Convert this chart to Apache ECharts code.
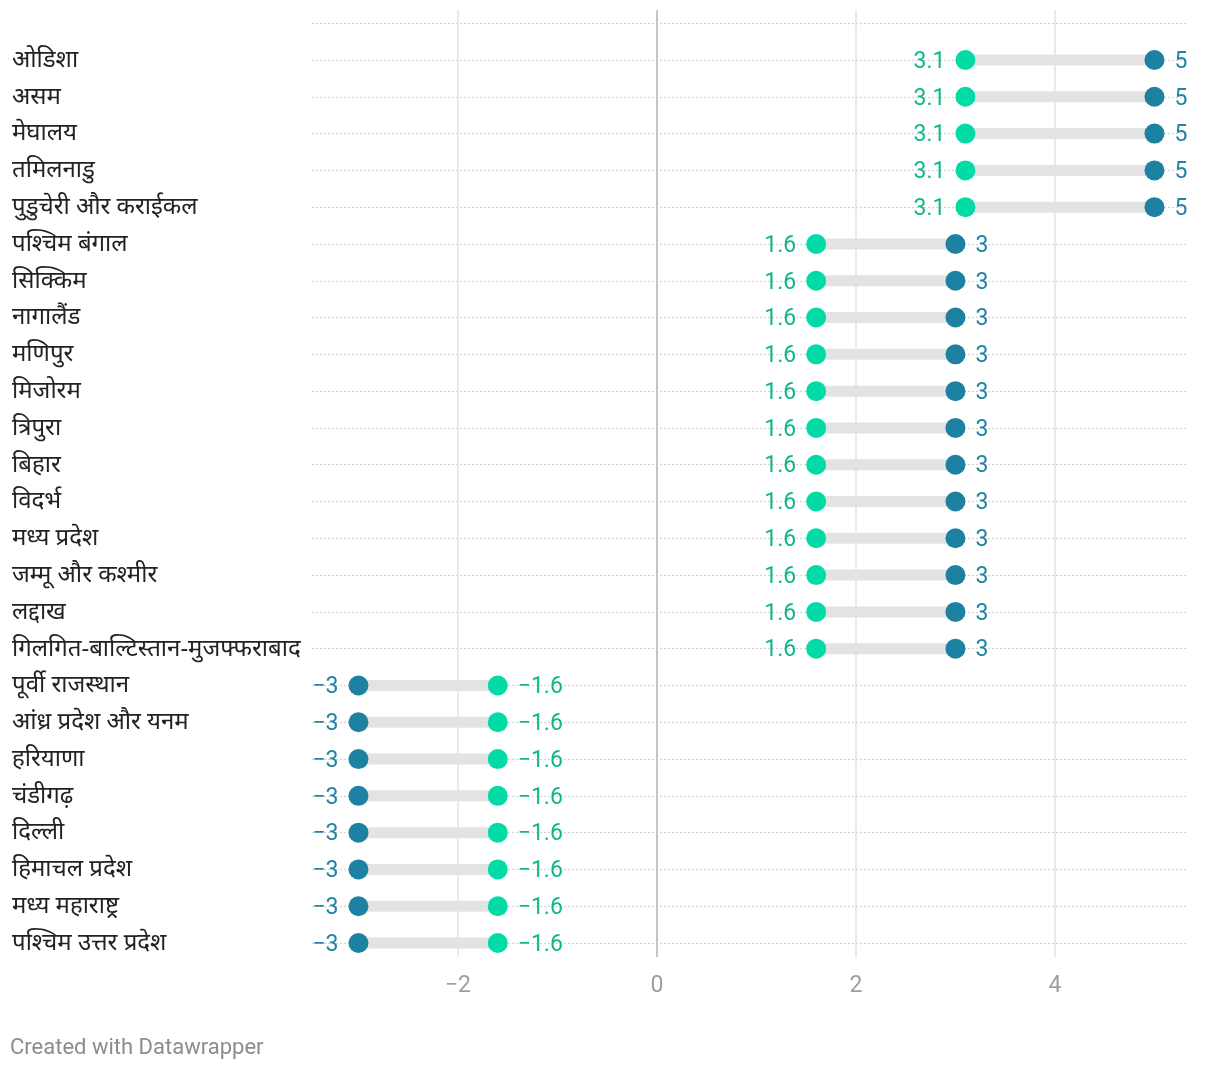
<!DOCTYPE html>
<html><head><meta charset="utf-8">
<script src="https://cdn.jsdelivr.net/npm/echarts@6/dist/echarts.min.js"></script>
<style>html,body{margin:0;padding:0;background:#fff}#c{width:1220px;height:1070px}</style>
</head><body><div id="c"></div>
<script>
const categories = ['ओडिशा','असम','मेघालय','तमिलनाडु','पुडुचेरी और कराईकल','पश्चिम बंगाल','सिक्किम','नागालैंड','मणिपुर','मिजोरम','त्रिपुरा','बिहार','विदर्भ','मध्य प्रदेश','जम्मू और कश्मीर','लद्दाख','गिलगित-बाल्टिस्तान-मुजफ्फराबाद','पूर्वी राजस्थान','आंध्र प्रदेश और यनम','हरियाणा','चंडीगढ़','दिल्ली','हिमाचल प्रदेश','मध्य महाराष्ट्र','पश्चिम उत्तर प्रदेश'];
const greenValues = [3.1,3.1,3.1,3.1,3.1,1.6,1.6,1.6,1.6,1.6,1.6,1.6,1.6,1.6,1.6,1.6,1.6,-1.6,-1.6,-1.6,-1.6,-1.6,-1.6,-1.6,-1.6];
const blueValues = [5,5,5,5,5,3,3,3,3,3,3,3,3,3,3,3,3,-3,-3,-3,-3,-3,-3,-3,-3];
const xTicks = [-2,0,2,4];

const GREEN = '#03dba6', GREEN_TXT = '#10b78c', BLUE = '#1d81a2', BLUE_TXT = '#1f83a3';
const fmt = v => v < 0 ? '\u2212' + Math.abs(v) : String(v);
const rowIdx = categories.map((_, i) => i);
const rowLines = [-1].concat(rowIdx);

const chart = echarts.init(document.getElementById('c'), null, {renderer: 'canvas'});
const mkPoints = (vals, other) => vals.map((v, i) => ({
  value: [v, i],
  label: {position: v < other[i] ? 'left' : 'right'}
}));

chart.setOption({
  animation: false,
  textStyle: {fontFamily: 'Roboto, "Noto Sans", sans-serif'},
  grid: {left: 312, right: 34, top: 10, bottom: 113, containLabel: false},
  xAxis: {
    type: 'value', min: -3.467, max: 5.317,
    axisLine: {show: false},
    axisTick: {show: false, customValues: xTicks},
    axisLabel: {customValues: xTicks, formatter: fmt, color: '#9e9e9e', fontSize: 23, margin: 18, fontFamily: 'Roboto'},
    splitLine: {show: true, lineStyle: {color: '#e3e3e3', width: 1.5}}
  },
  yAxis: {
    type: 'value', inverse: true, min: -1.359, max: 24.38,
    axisLine: {show: false},
    axisTick: {show: false, customValues: rowLines},
    axisLabel: {customValues: rowIdx, formatter: v => categories[v] || '', align: 'left', margin: 300,
      color: '#222', fontSize: 24, fontFamily: '"Noto Sans", sans-serif'},
    splitLine: {show: true, lineStyle: {color: '#d3d3d3', width: 1.2, type: [2, 2]}}
  },
  series: [
    {
      type: 'custom', z: 2,
      data: categories.map((_, i) => [greenValues[i], blueValues[i], i]),
      encode: {x: [0, 1], y: 2},
      renderItem: (params, api) => {
        const a = api.coord([api.value(0), api.value(2)]);
        const b = api.coord([api.value(1), api.value(2)]);
        return {type: 'line', shape: {x1: a[0], y1: a[1], x2: b[0], y2: b[1]},
          style: {stroke: '#e3e3e3', lineWidth: 11}};
      },
      markLine: {
        silent: true, symbol: 'none', label: {show: false},
        lineStyle: {color: '#c6c6c6', width: 2, type: 'solid'},
        data: [{xAxis: 0}]
      }
    },
    {
      type: 'scatter', z: 3, symbolSize: 20,
      itemStyle: {color: GREEN, opacity: 1},
      data: mkPoints(greenValues, blueValues),
      label: {show: true, formatter: p => fmt(p.value[0]), color: GREEN_TXT, fontSize: 23, distance: 10, offset: [0, 2], fontFamily: 'Roboto'}
    },
    {
      type: 'scatter', z: 3, symbolSize: 20,
      itemStyle: {color: BLUE, opacity: 1},
      data: mkPoints(blueValues, greenValues),
      label: {show: true, formatter: p => fmt(p.value[0]), color: BLUE_TXT, fontSize: 23, distance: 10, offset: [0, 2], fontFamily: 'Roboto'}
    }
  ],
  graphic: [{
    type: 'text', left: 10, top: 1037,
    style: {text: 'Created with Datawrapper', fill: '#8c8c8c', fontSize: 22, fontFamily: 'Roboto'}
  }]
});
</script>
</body></html>
